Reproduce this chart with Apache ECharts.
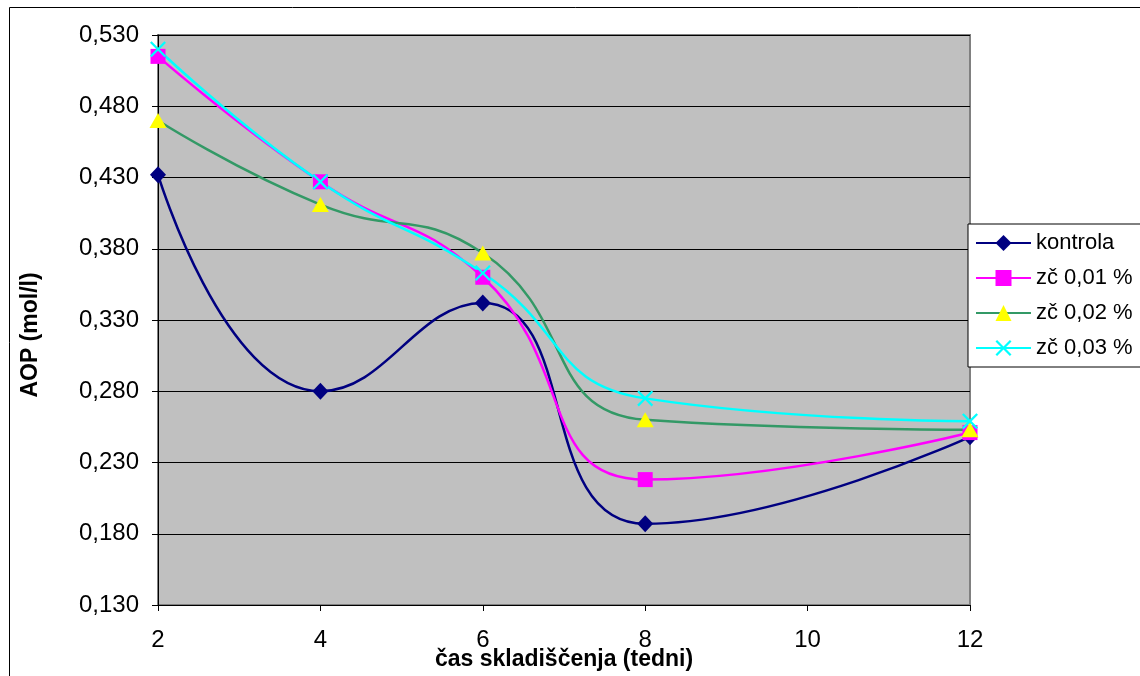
<!DOCTYPE html>
<html>
<head>
<meta charset="utf-8">
<script src="https://cdn.jsdelivr.net/npm/echarts@6/dist/echarts.min.js"></script>
<style>
  html, body { margin: 0; padding: 0; background: #fff; }
  #chart { width: 1140px; height: 676px; }
</style>
</head>
<body>
<div id="chart"></div>
<script>
// tedni (x) in vrednosti AOP
var weeks = [2, 4, 6, 8, 12];
var kontrola = [0.432, 0.280, 0.342, 0.187, 0.248];
var zc001 = [0.515, 0.427, 0.360, 0.218, 0.251];
var zc002 = [0.470, 0.411, 0.377, 0.260, 0.253];
var zc003 = [0.520, 0.427, 0.363, 0.275, 0.259];
var yTicks = [0.13, 0.18, 0.23, 0.28, 0.33, 0.38, 0.43, 0.48, 0.53];

function pairs(vals) {
  return weeks.map(function (w, i) { return [w, vals[i]]; });
}

var crossPath = 'path://M0,2L2,0L10,8L18,0L20,2L12,10L20,18L18,20L10,12L2,20L0,18L8,10Z';
var font = 'Arial, "Liberation Sans", sans-serif';

var myChart = echarts.init(document.getElementById('chart'));
var option = {
  animation: false,
  backgroundColor: '#fff',
  textStyle: { fontFamily: font },
  graphic: [{
    type: 'rect',
    z: -10,
    shape: { x: 9.5, y: 7.5, width: 1200, height: 700 },
    style: { fill: '#fff', stroke: '#000', lineWidth: 1 }
  }],
  grid: {
    left: 158, right: 170, top: 35, bottom: 71,
    outerBoundsMode: 'none',
    show: true,
    backgroundColor: '#C0C0C0',
    borderColor: '#808080',
    borderWidth: 2
  },
  legend: {
    orient: 'vertical',
    left: 968, top: 224,
    backgroundColor: '#fff',
    borderColor: '#000',
    borderWidth: 1,
    padding: [8, 30, 8, 7],
    itemWidth: 55,
    itemHeight: 20,
    itemGap: 13,
    textStyle: { fontSize: 22, color: '#000', fontFamily: font },
    data: ['kontrola', 'zč 0,01 %', 'zč 0,02 %', 'zč 0,03 %']
  },
  xAxis: {
    type: 'value',
    min: 2, max: 12, interval: 2,
    name: 'čas skladiščenja (tedni)',
    nameLocation: 'middle',
    nameGap: 43,
    nameMoveOverlap: false,
    nameTextStyle: { fontSize: 23, fontWeight: 'bold', color: '#000' },
    axisLine: { lineStyle: { color: '#000', width: 1 } },
    axisTick: { show: true, length: 6, lineStyle: { color: '#000' } },
    axisLabel: { fontSize: 24, color: '#000', margin: 23 },
    splitLine: { show: false }
  },
  yAxis: {
    type: 'value',
    min: 0.13, max: 0.53,
    name: 'AOP (mol/l)',
    nameLocation: 'middle',
    nameGap: 116,
    nameRotate: 90,
    nameTextStyle: { fontSize: 23, fontWeight: 'bold', color: '#000', padding: [0, 30, 0, 0] },
    axisLine: { show: true, lineStyle: { color: '#000', width: 1 } },
    axisTick: { show: true, length: 6, lineStyle: { color: '#000' }, customValues: yTicks },
    axisLabel: {
      fontSize: 24, color: '#000', margin: 19,
      customValues: yTicks,
      formatter: function (v) { return v.toFixed(3).replace('.', ','); }
    },
    splitLine: { show: true, lineStyle: { color: '#000', width: 1 } }
  },
  series: [
    {
      name: 'kontrola', type: 'line', smooth: 0.5,
      data: pairs(kontrola),
      symbol: 'diamond', symbolSize: [16, 17],
      lineStyle: { color: '#000080', width: 2.5 },
      itemStyle: { color: '#000080' }
    },
    {
      name: 'zč 0,01 %', type: 'line', smooth: 0.5,
      data: pairs(zc001),
      symbol: 'rect', symbolSize: 15,
      lineStyle: { color: '#FF00FF', width: 2.5 },
      itemStyle: { color: '#FF00FF' }
    },
    {
      name: 'zč 0,02 %', type: 'line', smooth: 0.5,
      data: pairs(zc002),
      symbol: 'triangle', symbolSize: [17, 15],
      lineStyle: { color: '#339966', width: 2.5 },
      itemStyle: { color: '#FFFF00' }
    },
    {
      name: 'zč 0,03 %', type: 'line', smooth: 0.5,
      data: pairs(zc003),
      symbol: crossPath, symbolSize: 16,
      lineStyle: { color: '#00FFFF', width: 2.5 },
      itemStyle: { color: '#00FFFF' }
    }
  ]
};
myChart.setOption(option);
window.addEventListener('resize', function () { myChart.resize(); });
</script>
</body>
</html>
